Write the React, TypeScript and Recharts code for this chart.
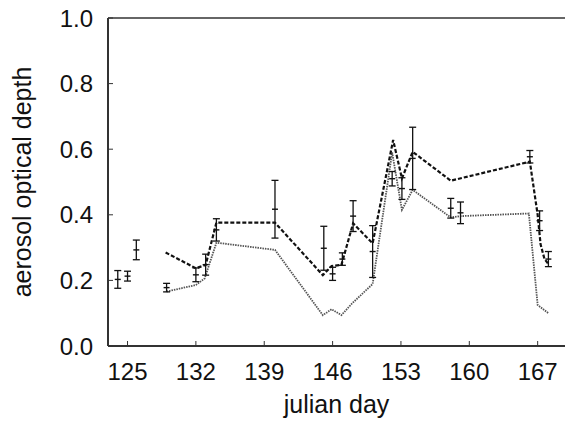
import { ComposedChart, Line, Scatter, ErrorBar, XAxis, YAxis } from "recharts";

// julian day axis
const xTicks = [125, 132, 139, 146, 153, 160, 167];
const yTicks = [0, 0.2, 0.4, 0.6, 0.8, 1.0];

// measured aerosol optical depth with error bars
const measDays = [124.0, 125.0, 125.9, 129.0, 132.0, 133.0, 134.1, 140.1, 145.1, 146.0, 147.0, 148.1, 150.1, 152.1, 153.1, 154.2, 158.1, 159.1, 166.2, 167.2, 168.1];
const measAod = [0.203, 0.213, 0.293, 0.178, 0.217, 0.248, 0.354, 0.417, 0.298, 0.22, 0.265, 0.396, 0.288, 0.51, 0.48, 0.572, 0.42, 0.406, 0.577, 0.382, 0.265];
const measErr = [0.027, 0.015, 0.03, 0.013, 0.021, 0.032, 0.034, 0.088, 0.067, 0.02, 0.019, 0.047, 0.079, 0.022, 0.033, 0.095, 0.03, 0.033, 0.019, 0.03, 0.023];

// dashed model curve
const dashedDays = [128.9, 132.0, 133.0, 134.1, 140.1, 145.0, 145.9, 146.9, 148.1, 150.1, 152.2, 153.1, 154.2, 158.1, 166.2, 167.0, 167.3, 167.7, 168.1];
const dashedAod = [0.285, 0.237, 0.247, 0.376, 0.376, 0.216, 0.244, 0.247, 0.374, 0.313, 0.628, 0.511, 0.592, 0.504, 0.562, 0.4, 0.31, 0.265, 0.25];

// dotted model curve
const dottedDays = [129.0, 132.0, 132.9, 134.1, 140.1, 145.0, 145.9, 146.9, 148.0, 150.1, 152.1, 153.1, 154.2, 158.1, 159.1, 166.1, 167.0, 168.1];
const dottedAod = [0.166, 0.186, 0.206, 0.315, 0.293, 0.094, 0.112, 0.094, 0.13, 0.189, 0.59, 0.415, 0.476, 0.392, 0.396, 0.404, 0.125, 0.1];

const measData = measDays.map((d, i) => ({ day: d, aod: measAod[i], err: measErr[i] }));
const dashedData = dashedDays.map((d, i) => ({ day: d, aod: dashedAod[i] }));
const dottedData = dottedDays.map((d, i) => ({ day: d, aod: dottedAod[i] }));

const font = "'Liberation Sans', Arial, Helvetica, sans-serif";
const axisColor = "#333";

const CenterMark = (p: any) => (
  <line x1={p.cx - 3} x2={p.cx + 3} y1={p.cy} y2={p.cy} stroke="#111" strokeWidth={1.4} />
);

const YLabel = ({ viewBox }: any) => {
  const x = viewBox.x + 22;
  const y = viewBox.y + viewBox.height / 2;
  return (
    <text x={x} y={y} transform={`rotate(-90, ${x}, ${y})`} textAnchor="middle" dominantBaseline="central"
      fontFamily={font} fontSize={25} fill="#111">
      aerosol optical depth
    </text>
  );
};

export default function App() {
  return (
    <div style={{ position: "absolute", left: 0, top: 0, background: "#fff" }}>
      <ComposedChart width={566} height={425} margin={{ top: 17, right: 0, bottom: 0, left: 0 }}>
        <XAxis
          type="number" dataKey="day" domain={[123, 169.8]} ticks={xTicks} allowDataOverflow
          height={79} tickSize={-5} tickMargin={22} stroke={axisColor}
          axisLine={{ stroke: axisColor, strokeWidth: 2 }}
          tick={{ fill: "#111", fontSize: 24, fontFamily: font }}
          label={{ value: "julian day", position: "insideBottom", offset: 12, fill: "#111", fontSize: 25, fontFamily: font }}
        />
        <XAxis
          xAxisId="top" orientation="top" type="number" domain={[123, 169.8]} ticks={xTicks} allowDataOverflow
          height={1} tickSize={-5} tick={false} stroke={axisColor}
          axisLine={{ stroke: axisColor, strokeWidth: 1.5 }}
        />
        <YAxis
          type="number" dataKey="aod" domain={[0, 1]} ticks={yTicks} allowDataOverflow
          width={108} tickSize={-5} tickMargin={20} stroke={axisColor}
          axisLine={{ stroke: axisColor, strokeWidth: 2 }}
          tickFormatter={(v: number) => v.toFixed(1)}
          tick={{ fill: "#111", fontSize: 24, fontFamily: font }}
          label={{ content: YLabel }}
        />
        <YAxis
          yAxisId="right" orientation="right" type="number" domain={[0, 1]} ticks={yTicks} allowDataOverflow
          width={1} tickSize={-5} tick={false} stroke={axisColor} axisLine={false}
        />
        <Line data={dottedData} dataKey="aod" type="linear" stroke="#555" strokeWidth={1.8}
          strokeDasharray="1.5 1" dot={false} isAnimationActive={false} />
        <Line data={dashedData} dataKey="aod" type="linear" stroke="#111" strokeWidth={2.2}
          strokeDasharray="4 2" dot={false} isAnimationActive={false} />
        <Scatter data={measData} dataKey="aod" shape={CenterMark} isAnimationActive={false}>
          <ErrorBar dataKey="err" direction="y" width={3.5} stroke="#111" strokeWidth={1.3} />
        </Scatter>
      </ComposedChart>
    </div>
  );
}
